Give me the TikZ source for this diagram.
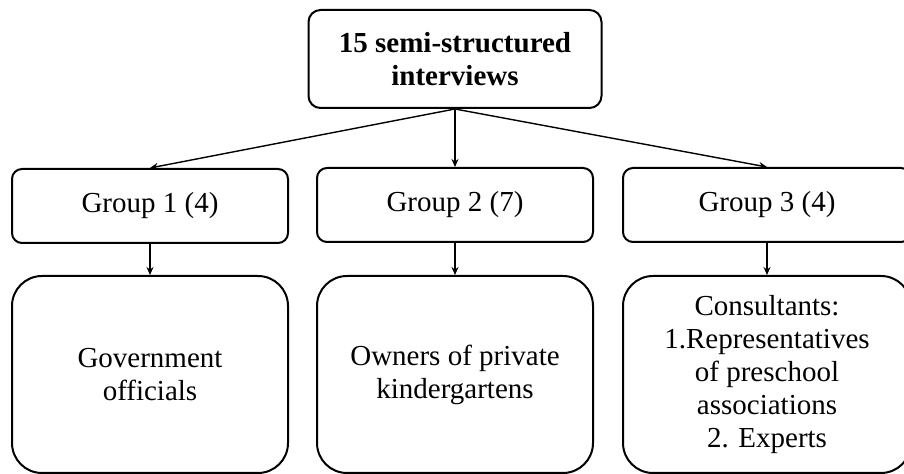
\documentclass[tikz,border=0pt]{standalone}
\usepackage{fontspec}
\setmainfont{Liberation Serif}
\usetikzlibrary{arrows.meta}

\begin{document}
\begin{tikzpicture}[x=0.5pt, y=-0.5pt,
    box/.style={draw, line width=1pt, rounded corners=5pt, align=center,
      inner sep=2pt, font=\fontsize{14.5}{16.5}\selectfont},
    rootbox/.style={box, rounded corners=6pt, minimum width=146.5pt,
      minimum height=49pt, font=\fontsize{14.5}{16.5}\selectfont\bfseries},
    groupbox/.style={box, minimum width=138pt, minimum height=37pt},
    listbox/.style={box, rounded corners=15pt, minimum width=138pt,
      minimum height=98.5pt},
    link/.style={-{Stealth[length=4pt,width=3.5pt]}, line width=0.7pt}]
  \useasboundingbox (0,0) rectangle (904,474);

  % Interviews
  \node[rootbox] (root) at (455,59) {15 semi-structured\\interviews};

  % Groups
  \node[groupbox] (g1) at (150,206) {Group 1 (4)};
  \node[groupbox] (g2) at (455,205) {Group 2 (7)};
  \node[groupbox, minimum width=144pt] (g3) at (767,205) {Group 3 (4)};

  % Members
  \node[listbox] (m1) at (150,374.5) {Government\\officials};
  \node[listbox] (m2) at (455,374.5) {Owners of private\\kindergartens};
  \node[listbox, minimum width=144pt] (m3) at (767,374.5)
    {Consultants:\\1.Representatives\\of preschool\\associations\\2. Experts};

  % Links
  \draw[link] (root.south) -- (g1.north);
  \draw[link] (root.south) -- (g2.north);
  \draw[link] (root.south) -- (g3.north);
  \draw[link] (g1.south) -- (m1.north);
  \draw[link] (g2.south) -- (m2.north);
  \draw[link] (g3.south) -- (m3.north);
\end{tikzpicture}
\end{document}
